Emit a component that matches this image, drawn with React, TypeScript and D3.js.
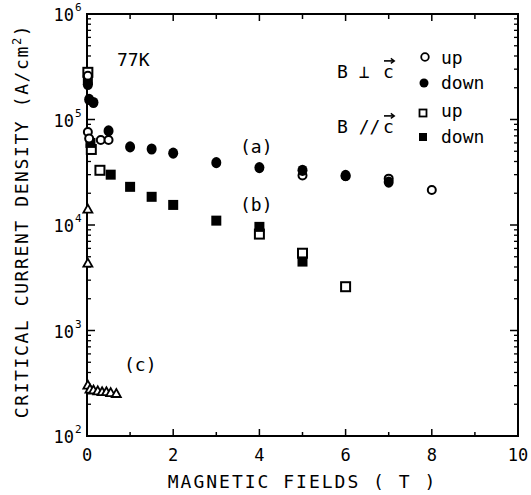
import React from "react";
import * as d3 from "d3";

const W = 531;
const H = 495;

// B ⊥ c, up (open circles)
const perpUp: [number, number][] = [
  [0.02, 2.6e5], [0.02, 7.6e4], [0.05, 6.6e4], [0.32, 6.4e4], [0.5, 6.4e4],
  [5, 2.95e4], [6, 2.9e4], [7, 2.75e4], [8, 2.15e4],
];
// B ⊥ c, down (filled circles)
const perpDown: [number, number][] = [
  [0.02, 2.15e5], [0.05, 1.55e5], [0.15, 1.45e5], [0.5, 7.8e4], [1, 5.5e4],
  [1.5, 5.25e4], [2, 4.8e4], [3, 3.9e4], [4, 3.5e4], [5, 3.3e4], [6, 2.95e4], [7, 2.55e4],
];
// B // c, up (open squares)
const parUp: [number, number][] = [
  [0.02, 2.8e5], [0.1, 5.2e4], [0.3, 3.3e4], [4, 8.2e3], [5, 5.4e3], [6, 2.6e3],
];
// B // c, down (filled squares)
const parDown: [number, number][] = [
  [0.02, 2.35e5], [0.08, 6.0e4], [0.55, 3.0e4], [1, 2.3e4], [1.5, 1.85e4], [2, 1.55e4],
  [3, 1.1e4], [4, 9.6e3], [5, 4.5e3],
];
// (c) triangles
const tri: [number, number][] = [
  [0.02, 1.4e4], [0.02, 4.3e3], [0.02, 3.0e2], [0.07, 2.75e2], [0.15, 2.7e2],
  [0.25, 2.65e2], [0.35, 2.6e2], [0.45, 2.6e2], [0.55, 2.55e2], [0.68, 2.5e2],
];

const xTicks = [0, 2, 4, 6, 8, 10];
const xMinor = [1, 3, 5, 7, 9];
const yDecades = [2, 3, 4, 5, 6];

const FONT = "'DejaVu Sans Mono', monospace";

function VecC({ x, y, size }: { x: number; y: number; size: number }) {
  // letter c with an arrow over it
  const w = size * 0.6;
  const top = y - size * 0.95;
  return (
    <g>
      <text x={x} y={y} fontFamily={FONT} fontSize={size} fill="#000">c</text>
      <line x1={x + 1} x2={x + w} y1={top} y2={top} stroke="#000" strokeWidth={1.6} />
      <path d={`M${x + w - 3},${top - 2.5} L${x + w + 0.5},${top} L${x + w - 3},${top + 2.5}`} fill="none" stroke="#000" strokeWidth={1.4} />
    </g>
  );
}

export default function App() {
  const x = d3.scaleLinear().domain([0, 10]).range([87, 518]);
  const y = d3.scaleLog().domain([1e2, 1e6]).range([436, 14]);
  const [x0, x1] = x.range();
  const [y0, y1] = y.range();

  const yMinor: number[] = [];
  for (let d = 2; d < 6; d++) for (let m = 2; m <= 9; m++) yMinor.push(m * Math.pow(10, d));

  const triPath = (cx: number, cy: number, s: number) =>
    `M${cx},${cy - s} L${cx + s * 0.9},${cy + s * 0.6} L${cx - s * 0.9},${cy + s * 0.6} Z`;

  return (
    <svg width={W} height={H} style={{ position: "absolute", left: 0, top: 0, background: "#fff" }}>
      <rect width={W} height={H} fill="#fff" />
      {/* frame */}
      <rect x={x0} y={y1} width={x1 - x0} height={y0 - y1} fill="none" stroke="#000" strokeWidth={2} />
      {/* x ticks */}
      {xTicks.map((t) => (
        <g key={"xt" + t}>
          <line x1={x(t)} x2={x(t)} y1={y0} y2={y0 - 7} stroke="#000" strokeWidth={1.5} />
          <line x1={x(t)} x2={x(t)} y1={y1} y2={y1 + 7} stroke="#000" strokeWidth={1.5} />
          <text x={x(t)} y={y0 + 25} textAnchor="middle" fontFamily={FONT} fontSize={17} fill="#000">{t}</text>
        </g>
      ))}
      {xMinor.map((t) => (
        <g key={"xm" + t}>
          <line x1={x(t)} x2={x(t)} y1={y0} y2={y0 - 4} stroke="#000" strokeWidth={1.5} />
          <line x1={x(t)} x2={x(t)} y1={y1} y2={y1 + 5} stroke="#000" strokeWidth={1.5} />
        </g>
      ))}
      {/* y ticks */}
      {yDecades.map((d) => {
        const v = Math.pow(10, d);
        return (
          <g key={"yd" + d}>
            <line x1={x0} x2={x0 + 8} y1={y(v)} y2={y(v)} stroke="#000" strokeWidth={1.5} />
            <line x1={x1} x2={x1 - 8} y1={y(v)} y2={y(v)} stroke="#000" strokeWidth={1.5} />
            <text x={x0 - 13} y={y(v) + 7} textAnchor="end" fontFamily={FONT} fontSize={17} fill="#000">10</text>
            <text x={x0 - 12} y={y(v) - 3} textAnchor="start" fontFamily={FONT} fontSize={11} fill="#000">{d}</text>
          </g>
        );
      })}
      {yMinor.map((v, i) => (
        <g key={"ym" + i}>
          <line x1={x0} x2={x0 + 4} y1={y(v)} y2={y(v)} stroke="#000" strokeWidth={1.3} />
          <line x1={x1} x2={x1 - 4} y1={y(v)} y2={y(v)} stroke="#000" strokeWidth={1.3} />
        </g>
      ))}
      {/* axis titles */}
      <text x={(x0 + x1) / 2} y={488} textAnchor="middle" fontFamily={FONT} fontSize={18} letterSpacing={2} fill="#000">MAGNETIC FIELDS ( T )</text>
      <text transform={`translate(28,${(y0 + y1) / 2 - 4}) rotate(-90)`} textAnchor="middle" fontFamily={FONT} fontSize={18} letterSpacing={1.6} fill="#000">
        CRITICAL CURRENT DENSITY (A/cm<tspan dy={-7} fontSize={12}>2</tspan><tspan dy={7}>)</tspan>
      </text>

      {/* data */}
      {tri.map(([b, j], i) => (
        <path key={"t" + i} d={triPath(x(b), y(j), 5)} fill="#fff" stroke="#000" strokeWidth={1.8} />
      ))}
      {parUp.map(([b, j], i) => (
        <rect key={"pu" + i} x={x(b) - 4.5} y={y(j) - 4.5} width={9} height={9} fill="#fff" stroke="#000" strokeWidth={2} />
      ))}
      {parDown.map(([b, j], i) => (
        <rect key={"pd" + i} x={x(b) - 5} y={y(j) - 5} width={10} height={10} fill="#000" />
      ))}
      {perpUp.map(([b, j], i) => (
        <circle key={"cu" + i} cx={x(b)} cy={y(j)} r={4} fill="#fff" stroke="#000" strokeWidth={2} />
      ))}
      {perpDown.map(([b, j], i) => (
        <ellipse key={"cd" + i} cx={x(b)} cy={y(j)} rx={5} ry={5.6} fill="#000" />
      ))}

      {/* annotations */}
      <text x={117} y={66} fontFamily={FONT} fontSize={18} fill="#000">77K</text>
      <text x={240} y={153} fontFamily={FONT} fontSize={18} fill="#000">(a)</text>
      <text x={240} y={211} fontFamily={FONT} fontSize={18} fill="#000">(b)</text>
      <text x={124} y={371} fontFamily={FONT} fontSize={18} fill="#000">(c)</text>

      {/* legend */}
      <text x={337} y={78} fontFamily={FONT} fontSize={18} fill="#000">B ⊥</text>
      <VecC x={383} y={78} size={18} />
      <text x={337} y={133} fontFamily={FONT} fontSize={18} fill="#000">B //</text>
      <VecC x={383} y={133} size={18} />

      <circle cx={425} cy={57} r={3.8} fill="#fff" stroke="#000" strokeWidth={1.8} />
      <text x={441} y={64} fontFamily={FONT} fontSize={18} fill="#000">up</text>
      <circle cx={424} cy={83} r={4.5} fill="#000" />
      <text x={441} y={89} fontFamily={FONT} fontSize={18} fill="#000">down</text>
      <rect x={419.5} y={109.5} width={7} height={7} fill="#fff" stroke="#000" strokeWidth={1.8} />
      <text x={441} y={117} fontFamily={FONT} fontSize={18} fill="#000">up</text>
      <rect x={419} y={133} width={8} height={8} fill="#000" />
      <text x={441} y={143} fontFamily={FONT} fontSize={18} fill="#000">down</text>
    </svg>
  );
}
